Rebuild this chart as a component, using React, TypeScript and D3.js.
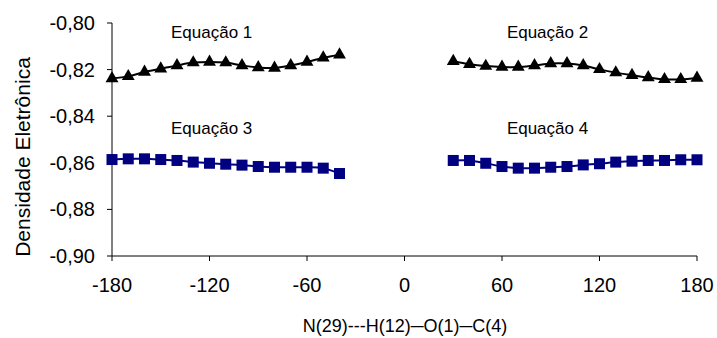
import React from "react";
import * as d3 from "d3";

const W = 717;
const H = 338;

const xTicks = [-180, -120, -60, 0, 60, 120, 180];
const yTicks = [-0.8, -0.82, -0.84, -0.86, -0.88, -0.9];

const leftAngles = [-180, -170, -160, -150, -140, -130, -120, -110, -100, -90, -80, -70, -60, -50, -40];
const rightAngles = [30, 40, 50, 60, 70, 80, 90, 100, 110, 120, 130, 140, 150, 160, 170, 180];

const eq1 = [-0.8238, -0.8229, -0.821, -0.8196, -0.8182, -0.817, -0.8167, -0.817, -0.8182, -0.8191, -0.8193, -0.8182, -0.8167, -0.8149, -0.8136];
const eq2 = [-0.8164, -0.8177, -0.8185, -0.8189, -0.8189, -0.8182, -0.8174, -0.8174, -0.8182, -0.8199, -0.8213, -0.8224, -0.8234, -0.8242, -0.8242, -0.8236];
const eq3 = [-0.8586, -0.8583, -0.8583, -0.8586, -0.859, -0.8597, -0.8602, -0.8606, -0.861, -0.8616, -0.8619, -0.8619, -0.8619, -0.8623, -0.8646];
const eq4 = [-0.859, -0.859, -0.8602, -0.8616, -0.8623, -0.8623, -0.8619, -0.8616, -0.8609, -0.8604, -0.8597, -0.8593, -0.859, -0.859, -0.8587, -0.8587];

const labels = [
  { text: "Equação 1", x: -143.7, y: -0.8065 },
  { text: "Equação 2", x: 63, y: -0.8065 },
  { text: "Equação 3", x: -143.7, y: -0.8476 },
  { text: "Equação 4", x: 63, y: -0.8476 },
];

const series = [
  { angles: leftAngles, values: eq1, color: "#000000", marker: "tri" },
  { angles: rightAngles, values: eq2, color: "#000000", marker: "tri" },
  { angles: leftAngles, values: eq3, color: "#000080", marker: "sq" },
  { angles: rightAngles, values: eq4, color: "#000080", marker: "sq" },
];

export default function App() {
  const x = d3.scaleLinear().domain([-180, 180]).range([112, 697]);
  const y = d3.scaleLinear().domain([-0.9, -0.8]).range([256, 23]);
  const line = d3
    .line<[number, number]>()
    .x((d) => x(d[0]))
    .y((d) => y(d[1]))
    .curve(d3.curveCatmullRom.alpha(0.5));
  const tri = d3.symbol().type(d3.symbolTriangle).size(72)() as string;
  const font = "Liberation Sans, Arial, sans-serif";
  const fmt = (v: number) => v.toFixed(2).replace(".", ",");

  return (
    <svg
      width={W}
      height={H}
      style={{ position: "fixed", left: 0, top: 0, background: "#fff" }}
      fontFamily={font}
    >
      <line x1={x(-180)} x2={x(-180)} y1={y(-0.8)} y2={y(-0.9)} stroke="#000" strokeWidth={1} />
      <line x1={x(-180)} x2={x(180)} y1={y(-0.9)} y2={y(-0.9)} stroke="#000" strokeWidth={1} />
      {yTicks.map((t) => (
        <g key={t}>
          <line x1={x(-180) - 5} x2={x(-180)} y1={y(t)} y2={y(t)} stroke="#000" />
          <text x={x(-180) - 17} y={y(t)} dy="0.35em" textAnchor="end" fontSize={20}>
            {fmt(t)}
          </text>
        </g>
      ))}
      {xTicks.map((t) => (
        <g key={t}>
          <line x1={x(t)} x2={x(t)} y1={y(-0.9)} y2={y(-0.9) + 5} stroke="#000" />
          <text x={x(t)} y={292} textAnchor="middle" fontSize={20}>
            {t}
          </text>
        </g>
      ))}
      <text
        transform={`translate(30,157) rotate(-90)`}
        textAnchor="middle"
        fontSize={21}
      >
        Densidade Eletrônica
      </text>
      <text x={405} y={332} textAnchor="middle" fontSize={18}>
        N(29)---H(12)─O(1)─C(4)
      </text>

      {series.map((s, i) => {
        const pts = s.angles.map((a, j) => [a, s.values[j]] as [number, number]);
        return (
          <g key={i}>
            <path d={line(pts) || ""} fill="none" stroke={s.color} strokeWidth={2} />
            {pts.map((p, j) =>
              s.marker === "tri" ? (
                <path key={j} d={tri} transform={`translate(${x(p[0])},${y(p[1])})`} fill={s.color} />
              ) : (
                <rect key={j} x={x(p[0]) - 5.5} y={y(p[1]) - 5.5} width={11} height={11} fill={s.color} />
              )
            )}
          </g>
        );
      })}

      {labels.map((l) => (
        <text key={l.text} x={x(l.x)} y={y(l.y)} fontSize={17}>
          {l.text}
        </text>
      ))}
    </svg>
  );
}
